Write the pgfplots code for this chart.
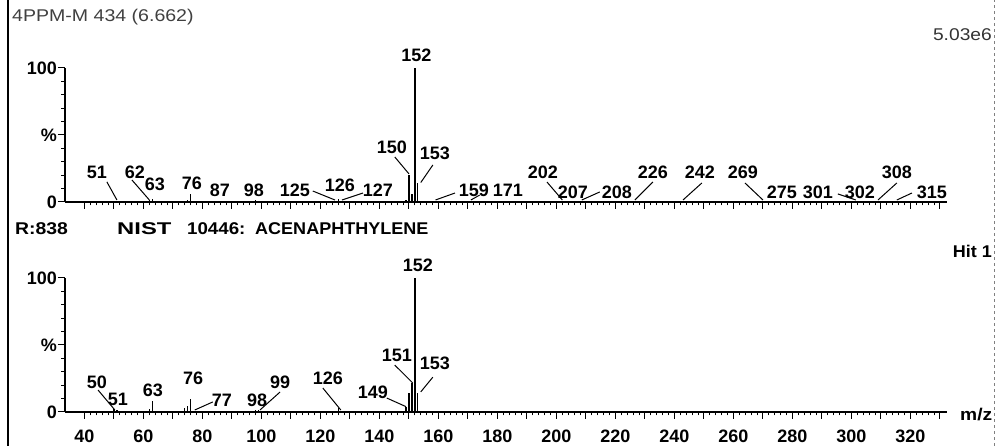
\documentclass[border=0pt]{standalone}
\usepackage{fontspec}
\setmainfont{Liberation Sans}
\usepackage{graphicx}
\usepackage{pgfplots}
\pgfplotsset{compat=1.18}
\newcommand{\lf}{\fontsize{18}{18}\selectfont\bfseries}
\newcommand{\hf}{\fontsize{17}{17}\selectfont}
\tikzset{
  lbl/.style={font=\lf, inner sep=0pt},
  leader/.style={line width=1pt, black},
  hdr/.style={anchor=west, inner sep=0pt, font=\hf\bfseries},
}
\pgfplotsset{
  spec/.style={
    scale only axis, width=882pt, height=134pt,
    xmin=33.4, xmax=332.4, ymin=0, ymax=100,
    axis x line=bottom, axis y line=left,
    axis line style={-, line width=1.5pt},
    clip=false,
    tick align=outside,
    xtick={40,50,...,330}, minor x tick num=4,
    xticklabels={40,,60,,80,,100,,120,,140,,160,,180,,200,,220,,240,,260,,280,,300,,320,},
    ytick={0,50,100}, yticklabels={0,\%,100}, minor y tick num=4,
    major tick length=7pt, minor tick length=3.5pt,
    every tick/.style={black, line width=1pt},
    /pgf/number format/assume math mode=true,
    tick label style={font=\lf},
    yticklabel style={inner sep=1pt},
  },
}
\begin{document}
\begin{tikzpicture}[x=1pt,y=1pt]
\useasboundingbox (0,0) rectangle (996,446);
\draw[line width=1.6pt] (8,0) -- (8,446);
\draw[black!50, dashed, line width=0.8pt] (994,0) -- (994,446);
% ---------- top panel ----------
\begin{axis}[spec, at={(65pt,244pt)}, anchor=south west,
  xticklabels={}]
\addplot[ycomb, black, line width=1.3pt, mark=none] coordinates {
(51,1) (62,1.2) (63,2) (74,1) (75,1.5) (76,6) (87,0.8) (98,1.2)
(125,1) (126,2) (127,1) (149,1.5) (150,20) (151,6) (152,100) (153,14) (154,1)
(159,1) (171,0.8) (202,0.8) (207,0.7) (208,0.7) (226,0.8) (242,0.8)
(269,0.8) (275,0.7) (301,0.7) (302,0.7) (308,0.7) (315,0.8)
};
\node[lbl] at (axis cs:44.2,22.4) {51};
\draw[leader] (axis cs:47.6,15) -- (axis cs:51,1.5);
\node[lbl] at (axis cs:57.1,22.4) {62};
\draw[leader] (axis cs:56.1,16.4) -- (axis cs:62,1.5);
\node[lbl] at (axis cs:63.9,13.4) {63};
\node[lbl] at (axis cs:76.4,14.2) {76};
\node[lbl] at (axis cs:85.9,9) {87};
\node[lbl] at (axis cs:97.4,9) {98};
\node[lbl] at (axis cs:111.3,9) {125};
\draw[leader] (axis cs:117.4,8.2) -- (axis cs:124.9,1.5);
\node[lbl] at (axis cs:126.6,12.7) {126};
\node[lbl] at (axis cs:139.5,9) {127};
\draw[leader] (axis cs:134.4,6.7) -- (axis cs:127.3,1.5);
\node[lbl] at (axis cs:144.2,41) {150};
\draw[leader] (axis cs:145.2,33.6) -- (axis cs:150,21);
\node[lbl] at (axis cs:152.5,109.7) {152};
\node[lbl] at (axis cs:158.8,36.6) {153};
\draw[leader] (axis cs:158.1,27.6) -- (axis cs:154,14.5);
\node[lbl] at (axis cs:172,9) {159};
\draw[leader] (axis cs:159,1.5) -- (axis cs:165.6,6.7);
\node[lbl] at (axis cs:183.5,9) {171};
\draw[leader] (axis cs:171,1.5) -- (axis cs:174,5.2);
\node[lbl] at (axis cs:195.4,22.4) {202};
\draw[leader] (axis cs:196.8,14.9) -- (axis cs:202,1.5);
\node[lbl] at (axis cs:205.6,7.5) {207};
\node[lbl] at (axis cs:220.5,7.5) {208};
\draw[leader] (axis cs:214.7,7.5) -- (axis cs:208.6,1.5);
\node[lbl] at (axis cs:232.7,22.4) {226};
\draw[leader] (axis cs:232.7,14.9) -- (axis cs:226.6,1.5);
\node[lbl] at (axis cs:248.6,22.4) {242};
\draw[leader] (axis cs:249.3,14.2) -- (axis cs:242.9,1.5);
\node[lbl] at (axis cs:263.2,22.4) {269};
\draw[leader] (axis cs:263.9,14.2) -- (axis cs:270,1.5);
\node[lbl] at (axis cs:276.4,7.5) {275};
\node[lbl] at (axis cs:288.6,7.5) {301};
\node[lbl] at (axis cs:302.9,7.5) {302};
\draw[leader] (axis cs:295.4,6) -- (axis cs:301.5,1.5);
\node[lbl] at (axis cs:315.4,22.4) {308};
\draw[leader] (axis cs:315.4,14.2) -- (axis cs:309,1.5);
\node[lbl] at (axis cs:327.3,7.5) {315};
\draw[leader] (axis cs:320.5,6.7) -- (axis cs:315.4,1.5);
\end{axis}
% ---------- bottom panel ----------
\begin{axis}[spec, at={(65pt,34pt)}, anchor=south west,
  xticklabel style={inner sep=0pt, anchor=north, yshift=-11pt}]
\addplot[ycomb, black, line width=1.3pt, mark=none] coordinates {
(50,2) (51,1.5) (62,2) (63,8.5) (74,3) (75,4.5) (76,10) (77,1) (87,1)
(98,1.5) (99,1.5) (126,3) (149,4) (150,14) (151,22) (152,100) (153,14)
};
\node[lbl] at (axis cs:153,109.7) {152};
\node[lbl] at (axis cs:145.9,42.5) {151};
\draw[leader] (axis cs:145.2,35) -- (axis cs:151.3,21.6);
\node[lbl] at (axis cs:158.8,36.6) {153};
\draw[leader] (axis cs:158.1,26) -- (axis cs:154,15);
\node[lbl] at (axis cs:137.8,14.9) {149};
\draw[leader] (axis cs:142.5,10.4) -- (axis cs:149,4);
\node[lbl] at (axis cs:122.5,25.4) {126};
\draw[leader] (axis cs:120.8,17.9) -- (axis cs:126.9,1.5);
\node[lbl] at (axis cs:106.3,22.4) {99};
\draw[leader] (axis cs:106.3,14.9) -- (axis cs:99.5,1.5);
\node[lbl] at (axis cs:98.5,9) {98};
\node[lbl] at (axis cs:86.6,9) {77};
\draw[leader] (axis cs:83.5,7.5) -- (axis cs:77.4,1.5);
\node[lbl] at (axis cs:76.8,25.4) {76};
\node[lbl] at (axis cs:63.2,16.4) {63};
\node[lbl] at (axis cs:51.3,9.7) {51};
\node[lbl] at (axis cs:44.2,22.4) {50};
\draw[leader] (axis cs:44.6,16.4) -- (axis cs:50.3,1.5);
\end{axis}
% ---------- header texts ----------
\node[anchor=west, inner sep=0pt, font=\hf, text=black!75] at (12,428.5) {\scalebox{1.15}[1]{4PPM-M 434 (6.662)}};
\node[anchor=east, inner sep=0pt, font=\hf, text=black!80] at (992,411) {\scalebox{1.13}[1]{5.03e6}};
\node[hdr] at (15,217) {\scalebox{1.14}[1]{R:838}};
\node[hdr] at (117,217) {\scalebox{1.4}[1]{NIST}};
\node[hdr] at (187,217) {\scalebox{1.1}[1]{10446:}};
\node[hdr] at (255,217) {\scalebox{1.06}[1]{ACENAPHTHYLENE}};
\node[anchor=east, inner sep=0pt, font=\hf\bfseries] at (992,194.5) {\scalebox{1.06}[1]{Hit 1}};
\node[anchor=west, inner sep=0pt, font=\hf\bfseries] at (960,31) {\scalebox{1.13}[1]{m/z}};
\end{tikzpicture}
\end{document}
